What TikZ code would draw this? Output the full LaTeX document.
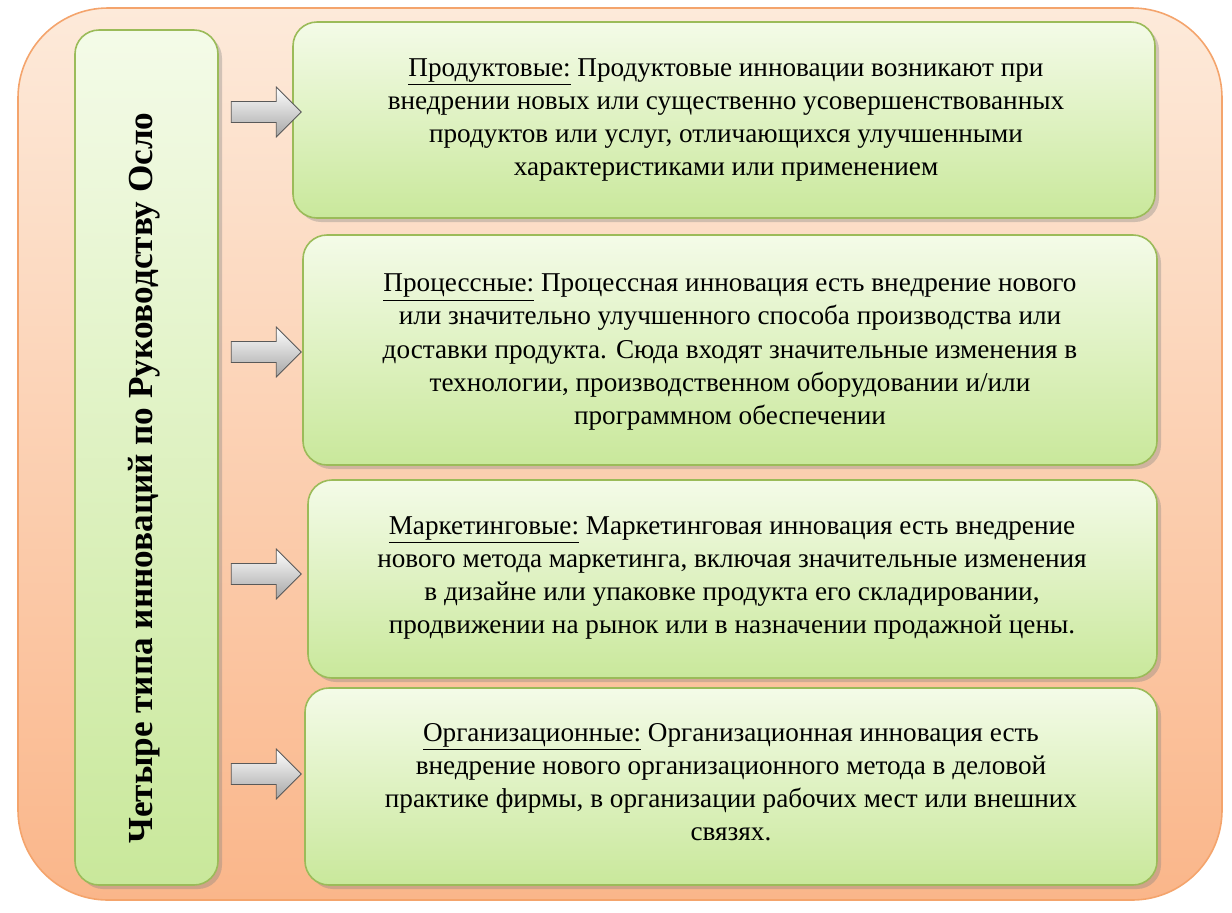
\documentclass[tikz,border=0pt]{standalone}
\usepackage{fontspec}
\setmainfont{Liberation Serif}
\usetikzlibrary{shapes.arrows,shadows}
\definecolor{peachtop}{HTML}{FDEADA}
\definecolor{peachbot}{HTML}{FAB68A}
\definecolor{peachline}{HTML}{F4A46C}
\definecolor{leaftop}{HTML}{F4FBE8}
\definecolor{leafbot}{HTML}{C9E89B}
\definecolor{leafline}{HTML}{9BBB59}

\begin{document}
\begin{tikzpicture}[x=0.5pt,y=-0.5pt]
    \tikzstyle{frame}=[draw=peachline,line width=0.8pt,rounded corners=45pt,top color=peachtop,bottom color=peachbot]
    \tikzstyle{panel}=[draw=leafline,line width=0.8pt,rounded corners=12pt,top color=leaftop,bottom color=leafbot,drop shadow={opacity=0.35,shadow xshift=2pt,shadow yshift=-2pt}]
    \tikzstyle{info}=[align=center,font=\fontsize{13.6}{16.6}\selectfont]
    \tikzstyle{pointer}=[single arrow,draw=black!65,top color=white,bottom color=black!35,minimum height=35pt,minimum width=25pt,single arrow head extend=3pt,inner sep=2pt]

    \useasboundingbox (0,0) rectangle (1232,912);

    % Background
    \draw[frame] (18,8) rectangle (1222,900);

    % Title column
    \draw[panel] (75,30) rectangle (218,885);
    \node[rotate=90,font=\fontsize{17.6}{20}\selectfont\bfseries] (title) at (144,478) {Четыре типа инноваций по Руководству Осло};

    % Type boxes
    \draw[panel] (293,22) rectangle (1155,218);
    \node[info] (prod) at (726,120) {\underline{Продуктовые:} Продуктовые инновации возникают при\\внедрении новых или существенно усовершенствованных\\продуктов или услуг, отличающихся улучшенными\\характеристиками или применением};
    \draw[panel] (303,235) rectangle (1157,465);
    \node[info] (proc) at (730,352) {\underline{Процессные:} Процессная инновация есть внедрение нового\\или значительно улучшенного способа производства или\\доставки продукта. Сюда входят значительные изменения в\\технологии, производственном оборудовании и/или\\программном обеспечении};
    \draw[panel] (308,480) rectangle (1157,678);
    \node[info] (mark) at (732,578) {\underline{Маркетинговые:} Маркетинговая инновация есть внедрение\\нового метода маркетинга, включая значительные изменения\\в дизайне или упаковке продукта его складировании,\\продвижении на рынок или в назначении продажной цены.};
    \draw[panel] (305,688) rectangle (1157,885);
    \node[info] (org) at (731,782) {\underline{Организационные:} Организационная инновация есть\\внедрение нового организационного метода в деловой\\практике фирмы, в организации рабочих мест или внешних\\связях.};

    % Arrows
    \foreach \name / \y in {1/112,2/352,3/574,4/774}
        \node[pointer] (A-\name) at (261,\y) {};
\end{tikzpicture}
\end{document}
